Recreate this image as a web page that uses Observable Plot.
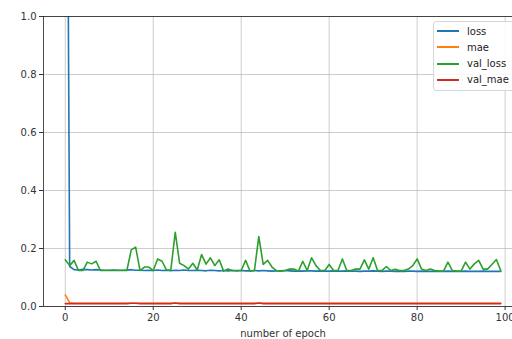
<!DOCTYPE html>
<html>
<head>
<meta charset="utf-8">
<script src="https://cdn.jsdelivr.net/npm/d3@7"></script>
<script src="https://cdn.jsdelivr.net/npm/@observablehq/plot@0.6"></script>
<style>
  html, body { margin: 0; padding: 0; background: #fff; overflow: hidden; width: 512px; height: 339px; }
  #wrap { position: relative; width: 512px; height: 339px; overflow: hidden; }
  #wrap svg { max-width: none !important; width: 530px !important; height: 339px !important; display: block; }
  #legend { position: absolute; left: 433px; top: 21px; width: 90px; height: 70px; box-sizing: border-box;
    border: 1px solid #d6d6d6; border-radius: 3px; background: rgba(255,255,255,0.85);
    font-family: "DejaVu Sans", sans-serif; font-size: 10px; color: #222; }
  .row { position: absolute; left: 0; height: 14px; display: flex; align-items: center; }
  .sw { width: 22px; height: 2px; margin-left: 3px; margin-right: 8px; }
</style>
</head>
<body>
<div id="wrap"><div id="legend"></div></div>
<script>
const seriesNames = ["loss", "mae", "val_loss", "val_mae"];
const colors = ["#1f77b4", "#ff7f0e", "#2ca02c", "#d62728"];
const xTicks = [0, 20, 40, 60, 80, 100];
const yTicks = [0, 0.2, 0.4, 0.6, 0.8, 1.0];
const epochs = d3.range(100);

const loss = [3.0, 0.138, 0.127, 0.126, 0.128, 0.127, 0.126, 0.127, 0.126, 0.125,
  0.125, 0.126, 0.125, 0.125, 0.126, 0.127, 0.125, 0.125, 0.124, 0.125,
  0.124, 0.126, 0.124, 0.125, 0.123, 0.125, 0.124, 0.126, 0.124, 0.124,
  0.125, 0.124, 0.123, 0.125, 0.124, 0.123, 0.124, 0.123, 0.124, 0.123,
  0.124, 0.123, 0.123, 0.124, 0.123, 0.124, 0.123, 0.122, 0.123, 0.123,
  0.124, 0.123, 0.122, 0.123, 0.122, 0.123, 0.123, 0.122, 0.123, 0.122,
  0.122, 0.123, 0.122, 0.122, 0.123, 0.122, 0.122, 0.121, 0.122, 0.122,
  0.123, 0.122, 0.121, 0.122, 0.122, 0.121, 0.122, 0.121, 0.122, 0.122,
  0.121, 0.122, 0.121, 0.121, 0.122, 0.121, 0.121, 0.122, 0.121, 0.121,
  0.121, 0.122, 0.121, 0.121, 0.121, 0.122, 0.121, 0.121, 0.121, 0.121];

const mae = [0.040, 0.013, 0.011, 0.011, 0.011, 0.011, 0.011, 0.011, 0.011, 0.011,
  0.011, 0.011, 0.011, 0.011, 0.011, 0.011, 0.011, 0.011, 0.011, 0.011,
  0.011, 0.011, 0.011, 0.011, 0.011, 0.011, 0.011, 0.011, 0.011, 0.011,
  0.011, 0.011, 0.011, 0.011, 0.011, 0.011, 0.011, 0.011, 0.011, 0.011,
  0.011, 0.011, 0.011, 0.011, 0.011, 0.011, 0.011, 0.011, 0.011, 0.011,
  0.011, 0.011, 0.011, 0.011, 0.011, 0.011, 0.011, 0.011, 0.011, 0.011,
  0.011, 0.011, 0.011, 0.011, 0.011, 0.011, 0.011, 0.011, 0.011, 0.011,
  0.011, 0.011, 0.011, 0.011, 0.011, 0.011, 0.011, 0.011, 0.011, 0.011,
  0.011, 0.011, 0.011, 0.011, 0.011, 0.011, 0.011, 0.011, 0.011, 0.011,
  0.011, 0.011, 0.011, 0.011, 0.011, 0.011, 0.011, 0.011, 0.011, 0.011];

const valLoss = [0.161, 0.141, 0.159, 0.124, 0.124, 0.153, 0.147, 0.156, 0.124, 0.124,
  0.124, 0.124, 0.124, 0.124, 0.124, 0.195, 0.205, 0.124, 0.136, 0.136,
  0.124, 0.164, 0.156, 0.126, 0.126, 0.256, 0.149, 0.141, 0.129, 0.149,
  0.126, 0.179, 0.146, 0.168, 0.141, 0.161, 0.122, 0.129, 0.124, 0.124,
  0.124, 0.159, 0.122, 0.124, 0.241, 0.145, 0.159, 0.136, 0.124, 0.122,
  0.124, 0.129, 0.129, 0.122, 0.156, 0.124, 0.168, 0.141, 0.124, 0.124,
  0.145, 0.124, 0.124, 0.164, 0.124, 0.124, 0.129, 0.129, 0.161, 0.129,
  0.168, 0.124, 0.124, 0.138, 0.124, 0.128, 0.124, 0.124, 0.129, 0.141,
  0.164, 0.129, 0.124, 0.129, 0.124, 0.122, 0.122, 0.153, 0.124, 0.122,
  0.122, 0.153, 0.129, 0.147, 0.159, 0.129, 0.129, 0.145, 0.162, 0.124];

const valMae = [0.010, 0.010, 0.010, 0.010, 0.010, 0.010, 0.010, 0.010, 0.010, 0.010,
  0.010, 0.010, 0.010, 0.010, 0.010, 0.011, 0.011, 0.010, 0.010, 0.010,
  0.010, 0.010, 0.010, 0.010, 0.010, 0.012, 0.010, 0.010, 0.010, 0.010,
  0.010, 0.010, 0.010, 0.010, 0.010, 0.010, 0.010, 0.010, 0.010, 0.010,
  0.010, 0.010, 0.010, 0.010, 0.012, 0.010, 0.010, 0.010, 0.010, 0.010,
  0.010, 0.010, 0.010, 0.010, 0.010, 0.010, 0.010, 0.010, 0.010, 0.010,
  0.010, 0.010, 0.010, 0.010, 0.010, 0.010, 0.010, 0.010, 0.010, 0.010,
  0.010, 0.010, 0.010, 0.010, 0.010, 0.010, 0.010, 0.010, 0.010, 0.010,
  0.010, 0.010, 0.010, 0.010, 0.010, 0.010, 0.010, 0.010, 0.010, 0.010,
  0.010, 0.010, 0.010, 0.010, 0.010, 0.010, 0.010, 0.010, 0.010, 0.010];

const valuesBySeries = [loss, mae, valLoss, valMae];
const rows = seriesNames.flatMap((s, i) => epochs.map((e, j) => ({series: s, epoch: e, value: valuesBySeries[i][j]})));

const chart = Plot.plot({
  width: 530,
  height: 339,
  marginLeft: 43,
  marginRight: 8,
  marginTop: 16,
  marginBottom: 33,
  style: {fontFamily: "DejaVu Sans, sans-serif", fontSize: "10px", color: "#333", background: "transparent", maxWidth: "none"},
  x: {domain: [-4.95, 103.95], ticks: xTicks, tickSize: 4, tickPadding: 3, label: "number of epoch", labelAnchor: "center", labelArrow: "none", labelOffset: 30},
  y: {domain: [0, 1], ticks: yTicks, tickSize: 4, tickPadding: 3, tickFormat: d3.format(".1f"), label: null},
  color: {domain: seriesNames, range: colors},
  marks: [
    Plot.gridX(xTicks, {stroke: "#b0b0b0", strokeOpacity: 0.8, strokeWidth: 0.8}),
    Plot.gridY(yTicks, {stroke: "#b0b0b0", strokeOpacity: 0.8, strokeWidth: 0.8}),
    Plot.lineY(rows, {x: "epoch", y: "value", z: "series", stroke: "series", strokeWidth: 1.6, clip: true}),
    Plot.frame({stroke: "#222", strokeWidth: 0.8})
  ]
});
document.getElementById("wrap").prepend(chart);

const legend = document.getElementById("legend");
seriesNames.forEach((s, i) => {
  const row = document.createElement("div");
  row.className = "row";
  row.style.top = (2 + i * 16.3) + "px";
  const sw = document.createElement("div");
  sw.className = "sw";
  sw.style.backgroundColor = colors[i];
  const t = document.createElement("span");
  t.textContent = s;
  row.append(sw, t);
  legend.append(row);
});
</script>
</body>
</html>
